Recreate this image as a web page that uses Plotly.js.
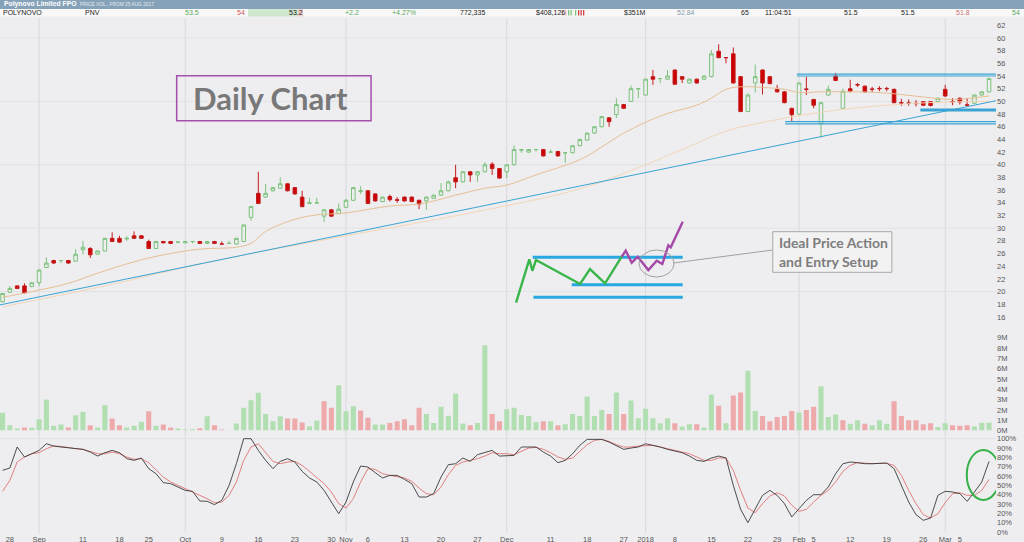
<!DOCTYPE html>
<html><head><meta charset="utf-8">
<script src="https://cdn.plot.ly/plotly-3.0.1.min.js"></script>
<style>html,body{margin:0;padding:0;background:#eeeef1;}#chart{width:1024px;height:542px;}</style>
</head><body><div id="chart"></div>
<script>
// ---------- DATA ----------
const firstDay = '2017-08-25', lastDay = '2018-03-09';
const closedDays = ['2017-09-22','2017-12-25','2017-12-26','2018-01-01','2018-01-26'];

const open = [18.4,19.9,20.9,20.9,20.8,21.4,23.8,24.9,24.9,24.9,
24.8,26.6,26.8,25.9,26.4,28.4,28.4,28.3,28.8,28.8,
27.9,26.8,27.9,27.9,27.8,27.7,27.9,27.9,27.6,27.9,
27.5,27.6,27.5,27.9,31.7,35.5,34.9,35.9,36.3,37.0,
36.4,34.9,33.9,34.0,31.9,32.9,32.3,33.3,34.4,35.8,
35.9,35.4,34.2,35.0,34.5,34.9,34.9,34.4,34.3,34.7,
35.2,35.9,37.96,37.3,38.9,38.4,38.9,40.1,39.4,38.9,
40.0,42.3,42.0,42.4,42.4,42.0,42.1,41.9,41.9,43.0,
43.9,45.0,46.0,47.4,47.9,49.5,50.0,52.0,51.0,53.9,
53.6,53.5,54.95,53.9,52.9,53.5,53.5,53.9,57.9,56.9,
57.5,53.9,48.4,52.9,54.95,53.9,51.9,51.5,48.9,48.0,
51.95,50.3,46.5,51.0,54.0,48.9,52.0,52.65,52.4,51.95,
52.05,52.05,51.9,49.8,49.75,49.7,49.95,49.95,49.95,51.9,
50.0,50.5,49.45,49.7,51.0,51.5];
const high = [19.8,20.9,21.0,21.3,21.5,23.5,25.4,25.0,24.9,25.0,
26.7,28.0,27.0,26.5,28.5,29.35,28.8,28.7,29.5,28.9,
28.2,28.0,28.0,28.0,27.9,28.0,27.9,28.0,28.0,28.0,
27.9,28.0,28.5,30.6,33.5,38.9,37.0,36.5,38.0,37.1,
36.5,35.9,34.8,34.8,33.0,33.0,33.9,34.6,36.5,36.6,
36.0,35.5,35.0,35.3,34.9,35.0,35.0,34.5,35.0,35.3,
37.1,37.5,40.0,39.0,39.0,39.0,40.4,40.4,39.5,40.1,
43.1,42.5,42.5,42.4,42.5,42.4,42.2,41.9,43.1,44.1,
45.1,46.1,47.7,47.5,50.5,49.6,52.5,52.0,53.6,54.95,
53.6,54.95,55.0,54.0,53.6,53.6,54.1,58.1,59.0,56.9,
58.5,54.0,51.3,55.8,55.0,54.0,52.6,51.6,49.0,53.0,
53.9,50.4,49.9,52.5,54.5,52.0,53.4,52.9,52.5,52.3,
52.4,52.3,52.0,50.4,50.3,50.2,50.0,50.0,50.6,52.6,
50.5,50.6,50.5,51.1,51.6,53.7];
const low = [18.3,19.8,20.4,19.7,20.7,20.9,23.7,24.4,24.5,24.4,
24.7,25.9,25.3,25.8,26.3,27.8,27.7,28.0,28.3,28.3,
26.7,26.7,27.6,27.5,27.7,27.6,27.6,27.5,27.5,27.5,
27.5,27.6,27.4,27.8,31.2,33.8,34.8,35.8,36.2,35.8,
35.3,33.3,33.9,33.9,31.0,31.8,32.2,33.2,34.3,35.4,
33.8,34.2,34.1,34.2,34.0,34.2,34.1,33.0,32.9,34.6,
35.1,35.8,36.3,37.2,37.3,37.3,38.8,38.4,37.8,37.9,
39.9,41.9,41.9,42.1,41.3,42.0,41.3,40.3,41.8,42.9,
43.8,44.9,45.9,46.0,47.4,48.8,49.9,50.5,50.9,52.6,
52.9,53.4,52.6,52.9,52.8,52.8,53.4,53.8,56.8,56.0,
52.8,48.3,48.3,51.4,51.1,52.7,51.4,49.7,46.8,47.9,
51.0,48.9,44.3,50.9,53.2,48.8,51.4,52.3,51.4,51.5,
51.6,51.6,49.7,49.3,49.3,49.2,49.3,49.2,49.9,50.7,
49.4,49.5,49.35,49.6,50.9,51.4];
const close = [19.7,20.5,20.5,19.8,21.4,23.4,24.5,24.5,24.9,24.5,
25.9,27.0,25.8,26.4,28.4,27.9,27.8,28.4,28.4,28.4,
26.8,27.9,27.7,27.6,27.8,27.9,27.9,27.6,27.9,27.6,
27.5,27.6,28.4,30.5,33.4,33.9,35.5,36.4,37.0,35.9,
35.4,33.4,34.0,34.0,32.9,31.9,33.0,34.4,36.4,35.9,
33.9,34.3,34.9,34.5,34.4,34.3,34.2,33.8,34.9,35.2,
35.9,37.3,37.3,38.9,38.4,38.9,40.0,39.4,37.9,40.0,
42.4,42.4,42.4,42.4,41.4,42.0,41.4,41.9,43.0,44.0,
45.0,46.0,47.6,46.8,49.5,48.9,52.0,52.0,53.5,53.5,
53.6,54.0,52.7,53.5,53.5,52.9,54.0,57.5,56.9,56.9,
52.9,48.4,51.0,53.9,52.9,52.8,51.5,49.8,47.9,52.9,
51.9,49.4,49.8,51.9,53.3,51.6,51.6,52.6,51.5,51.9,
52.0,52.0,49.8,49.75,49.7,49.65,49.4,49.35,50.5,50.85,
49.95,49.9,49.4,51.0,51.5,53.6];
// volume, millions of shares
const volume = [1.72,0.52,0.19,0.29,0.26,1.10,3.01,0.45,0.58,0.29,
1.49,1.81,0.52,0.29,2.46,1.17,0.52,0.29,0.45,0.84,
1.88,0.45,0.58,0.29,0.19,0.10,0.13,0.23,1.39,0.52,
0.10,0.03,0.68,2.20,2.94,3.66,1.59,0.91,1.39,1.17,
1.17,0.78,0.42,0.97,2.85,2.20,4.40,1.88,2.36,1.94,
1.23,0.58,0.58,0.74,0.91,1.10,0.52,2.20,1.59,0.74,
2.30,1.42,3.59,0.68,0.52,0.74,8.28,1.59,0.91,2.07,
2.2,1.5,1.4,0.8,0.9,0.9,0.5,0.6,1.6,1.4,
3.3,1.4,2.0,1.6,3.7,1.6,2.9,1.2,2.1,1.2,
0.7,1.2,0.7,0.4,0.6,0.6,0.3,3.5,2.4,0.7,
3.4,3.7,5.8,1.9,1.4,0.9,1.3,1.4,1.9,1.75,
2.0,2.3,4.3,1.3,1.55,1.0,0.65,1.0,0.65,0.5,
1.0,0.65,2.85,1.4,1.0,1.0,0.6,0.7,0.35,0.7,
0.5,0.45,0.5,0.4,0.75,0.75];
// stochastic oscillator %K and %D
const stochK = [66.1,68.6,91.1,80.4,83.9,87.5,94.6,92.1,91.1,90.0,
89.3,88.6,85.7,81.4,85.0,87.5,85.0,78.6,76.8,79.3,
67.9,62.5,52.9,51.8,48.2,44.6,43.6,33.2,32.9,29.3,
33.9,50.0,73.2,100,100,87.5,76.8,67.9,75.7,78.6,
75.0,65.0,57.9,53.6,44.6,32.1,19.6,32.1,53.6,70.7,
69.6,63.6,57.9,60.7,60.7,56.4,51.8,37.5,37.5,41.1,
58.9,72.1,73.2,79.3,75.7,82.9,85.0,87.5,81.4,82.1,
82.1,91.1,91.1,91.1,85.7,81.4,74.3,76.8,83.9,92.9,
99.3,99.3,99.3,96.4,92.1,88.6,90.0,91.1,94.6,92.9,
91.1,88.6,86.4,85.0,81.4,76.8,75.7,79.3,81.4,79.3,
50.0,24.3,10.0,25.0,39.3,44.6,39.3,30.4,16.1,25.0,
33.9,40.0,40.0,48.2,62.5,73.2,75.0,74.3,73.2,73.2,
73.2,73.9,67.9,50.0,32.1,18.6,12.5,15.0,39.3,43.6,
42.9,41.1,32.9,42.9,53.6,75.7];
const stochD = [43.6,55.4,75.0,80.4,83.9,85.0,89.3,92.1,91.8,90.4,
89.3,88.6,86.4,83.9,83.9,85.7,83.9,80.4,77.9,78.6,
74.3,67.1,58.9,53.6,50.0,46.4,43.6,39.3,35.7,31.4,
32.1,39.3,53.6,76.8,91.1,94.6,85.7,75.7,73.2,75.0,
75.7,71.4,65.0,58.9,51.8,42.9,30.4,25.7,35.7,53.6,
67.9,67.1,62.5,60.7,58.9,57.9,54.3,47.1,41.1,40.0,
48.2,61.4,71.4,75.0,76.8,78.6,81.4,85.0,83.9,83.9,
82.9,86.4,90.0,90.7,88.6,85.0,80.4,77.9,79.3,86.4,
93.6,98.2,99.3,97.1,93.6,91.1,91.1,92.1,92.9,92.9,
91.1,89.3,87.5,86.4,83.9,80.4,76.8,76.8,79.3,79.3,
66.1,44.6,25.7,20.7,30.4,38.6,42.1,38.6,28.6,22.1,
24.3,32.1,39.3,44.6,53.6,65.0,71.4,74.3,73.6,73.2,
73.6,73.6,71.4,60.7,44.6,30.4,18.6,15.0,19.6,31.4,
41.1,42.1,39.3,39.3,44.6,56.4];
// moving averages (trading-day number, price)
const maFastDay = [0,4,9,13,18,22,27,32,34,36,40,43,47,53,57,62,66,69,73,79,82,85,88,91,95,97,99,101,104,107,109,112,117,121,126,130,135];
const maFastVal = [19.1,20.0,21.3,22.9,24.7,25.8,26.7,27.0,27.6,29.5,31.4,32.1,32.4,33.5,33.8,35.2,36.3,36.8,38.4,40.8,42.8,45.0,46.7,48.1,49.4,50.5,51.9,52.3,52.2,51.9,51.4,51.5,51.5,51.3,50.7,50.3,50.85];
const maSlowDay = [0,14,28,46,64,79,88,94,99,105,114,125,135];
const maSlowVal = [17.6,20.9,24.6,28.6,32.4,36.2,40.0,42.9,45.3,46.9,48.6,49.7,50.0];
// drawn trend line (trading-day number, price)
const trendDay = [-0.35, 135.95];
const trendVal = [17.9, 50.1];
// drawn consolidation range lines
const rangeTopVal = [54.3, 54.0], rangeTopFrom = 108.7;
const rangeLowVal = [46.8, 46.45], rangeLowFrom = 107.1;
const entryVal = 48.65, entryFrom = 125.6;
// "ideal price action" sketch (trading-day number, price)
const sketchLevels = [25.41, 21.09, 19.10];
const sketchLevelFrom = [72.55, 77.89, 72.64];
const sketchLevelTo = 93.08;
const sketchGreenDay = [70.27,72.09,72.5,73.0,79.03,80.39,82.45,84.73];
const sketchGreenVal = [18.25,25.09,23.29,24.98,21.20,23.56,21.31,25.50];
const sketchPurpleDay = [84.73,85.28,86.10,86.92,88.37,89.52,90.29,91.11,91.44,93.08];
const sketchPurpleVal = [25.50,26.45,24.56,25.50,23.40,24.87,24.35,27.30,26.98,31.02];

// axis labels
const tickDates = ['2017-08-28','2017-09-01','2017-09-11','2017-09-18','2017-09-25','2017-10-02','2017-10-09','2017-10-16','2017-10-23','2017-10-30','2017-11-01','2017-11-06','2017-11-13','2017-11-20','2017-11-27','2017-12-01','2017-12-11','2017-12-18','2017-12-27','2018-01-02','2018-01-08','2018-01-15','2018-01-22','2018-01-29','2018-02-01','2018-02-05','2018-02-12','2018-02-19','2018-02-26','2018-03-01','2018-03-05'];
const tickLabels = ['28','Sep','11','18','25','Oct','9','16','23','30','Nov','6','13','20','27','Dec','11','18','27','2018','8','15','22','29','Feb','5','12','19','26','Mar','5'];
const monthStarts = ['2017-09-01','2017-10-02','2017-11-01','2017-12-01','2018-01-02','2018-02-01','2018-03-01'];
const priceTicks = [16,18,20,22,24,26,28,30,32,34,36,38,40,42,44,46,48,50,52,54,56,58,60,62];
const volTicks = [0,1,2,3,4,5,6,7,8,9];
const volTickText = ['0M','1M','2M','3M','4M','5M','6M','7M','8M','9M'];
const stochTicks = [0,10,20,30,40,50,60,70,80,90,100];
const stochTickText = ['0%','10%','20%','30%','40%','50%','60%','70%','80%','90%','100%'];

// quote header
const headerTitle = 'Polynovo Limited FPO';
const headerSub = 'PRICE VOL., FROM 25 AUG 2017';
const headerValues = ['POLYNOVO','PNV','53.5','54','53.2','+2.2','+4.27%','772,335','$408,126','$351M','52.84','65','11:04:51','51.5','51.5','51.8','54'];

// ---------- BUILD ----------
function tradingDays(a,b,skip){
  const out=[]; const d=new Date(a+'T00:00:00Z'); const end=new Date(b+'T00:00:00Z');
  while(d<=end){ const wd=d.getUTCDay(); const s=d.toISOString().slice(0,10);
    if(wd!==0&&wd!==6&&!skip.includes(s)) out.push(s); d.setUTCDate(d.getUTCDate()+1);}
  return out;
}
const dates = tradingDays(firstDay,lastDay,closedDays);
const dayNo = dates.map((d,i)=>i);
const volColors = close.map((c,i)=> (i===0 || c>=close[i-1]) ? '#b2dfb2' : '#eeaaaa');

const W=1024,H=542,mL=0,mR=28,mT=18,mB=9;
const plotW=W-mL-mR, plotH=H-mT-mB;
const fy = Y => (H-mB-Y)/plotH;
const fx = X => (X-mL)/plotW;
const xEnd = 135.95;

const traces = [
  {type:'scatter',mode:'lines',x:maSlowDay,y:maSlowVal,line:{color:'#f3d6b8',width:1,shape:'spline'},xaxis:'x',yaxis:'y',hoverinfo:'skip'},
  {type:'scatter',mode:'lines',x:maFastDay,y:maFastVal,line:{color:'#e6bf93',width:1,shape:'spline'},xaxis:'x',yaxis:'y',hoverinfo:'skip'},
  {type:'scatter',mode:'lines',x:trendDay,y:trendVal,line:{color:'#3aa3d3',width:1},xaxis:'x',yaxis:'y',hoverinfo:'skip'},
  {type:'candlestick',x:dayNo,open:open,high:high,low:low,close:close,xaxis:'x',yaxis:'y',
   increasing:{line:{color:'#7cc27c',width:1},fillcolor:'#eeeef1'},
   decreasing:{line:{color:'#c41c1c',width:1},fillcolor:'#cc0000'},
   whiskerwidth:0,hoverinfo:'skip'},
  {type:'bar',x:dayNo,y:volume,marker:{color:volColors,line:{width:0}},width:0.7,xaxis:'x',yaxis:'y2',hoverinfo:'skip'},
  {type:'scatter',mode:'lines',x:dayNo,y:stochD,line:{color:'#e07272',width:0.9},xaxis:'x',yaxis:'y3',hoverinfo:'skip'},
  {type:'scatter',mode:'lines',x:dayNo,y:stochK,line:{color:'#3a3a3a',width:0.9},xaxis:'x',yaxis:'y3',hoverinfo:'skip'}
];
rangeTopVal.forEach(v=>traces.push({type:'scatter',mode:'lines',x:[rangeTopFrom,xEnd],y:[v,v],line:{color:'#3aa3d3',width:1.1},xaxis:'x',yaxis:'y',hoverinfo:'skip'}));
rangeLowVal.forEach(v=>traces.push({type:'scatter',mode:'lines',x:[rangeLowFrom,xEnd],y:[v,v],line:{color:'#3aa3d3',width:1.1},xaxis:'x',yaxis:'y',hoverinfo:'skip'}));
traces.push({type:'scatter',mode:'lines',x:[entryFrom,xEnd],y:[entryVal,entryVal],line:{color:'#3aa3d3',width:3},xaxis:'x',yaxis:'y',hoverinfo:'skip'});
sketchLevels.forEach((v,k)=>traces.push({type:'scatter',mode:'lines',x:[sketchLevelFrom[k],sketchLevelTo],y:[v,v],line:{color:'#27a8e0',width:3},xaxis:'x',yaxis:'y',hoverinfo:'skip'}));
traces.push({type:'scatter',mode:'lines',x:sketchGreenDay,y:sketchGreenVal,line:{color:'#3ab54a',width:2.4},xaxis:'x',yaxis:'y',hoverinfo:'skip'});
traces.push({type:'scatter',mode:'lines',x:sketchPurpleDay,y:sketchPurpleVal,line:{color:'#a548a8',width:2.4},xaxis:'x',yaxis:'y',hoverinfo:'skip'});

const tickFont = {family:'Liberation Sans, Arial, sans-serif',size:7.5,color:'#555'};
const shapes = [];
shapes.push({type:'rect',xref:'paper',yref:'paper',x0:fx(0),x1:fx(W),y0:fy(9),y1:fy(0),fillcolor:'#86a2b9',line:{width:0},layer:'above'});
shapes.push({type:'rect',xref:'paper',yref:'paper',x0:fx(0),x1:fx(W),y0:fy(16.5),y1:fy(9),fillcolor:'#f8f8f8',line:{width:0},layer:'above'});
shapes.push({type:'rect',xref:'paper',yref:'paper',x0:fx(248),x1:fx(298),y0:fy(16.5),y1:fy(9),fillcolor:'#cfe8cf',line:{width:0},layer:'above'});
shapes.push({type:'rect',xref:'paper',yref:'paper',x0:fx(298),x1:fx(303),y0:fy(16.5),y1:fy(9),fillcolor:'#f3cccc',line:{width:0},layer:'above'});
[[562,'#f0b0b0'],[565,'#f0b0b0'],[568,'#7cc27c'],[570.5,'#7cc27c'],[575,'#7cc27c'],[578,'#d04040'],[580.5,'#d04040'],[583,'#d04040']].forEach(b=>{
  shapes.push({type:'rect',xref:'paper',yref:'paper',x0:fx(b[0]),x1:fx(b[0]+1.3),y0:fy(15.5),y1:fy(10),fillcolor:b[1],line:{width:0},layer:'above'});
});
monthStarts.forEach(d=>{const i=dates.indexOf(d);
  shapes.push({type:'line',xref:'x',yref:'paper',x0:i,x1:i,y0:0,y1:1,line:{color:'#d8d8dd',width:1},layer:'below'});});
[20,30,40,50,60].forEach(v=>shapes.push({type:'line',xref:'paper',yref:'y',x0:0,x1:1,y0:v,y1:v,line:{color:'#e2e2e6',width:1},layer:'below'}));
shapes.push({type:'line',xref:'paper',yref:'y3',x0:0,x1:1,y0:100,y1:100,line:{color:'#e2e2e6',width:1},layer:'below'});
shapes.push({type:'rect',xref:'x',yref:'y',x0:23.83,x1:50.43,y0:46.95,y1:54.05,line:{color:'#a54fac',width:1.5}});
shapes.push({type:'circle',xref:'x',yref:'y',x0:87.1,x1:91.9,y0:22.3,y1:26.56,line:{color:'#a0a0a0',width:1}});
shapes.push({type:'line',xref:'x',yref:'y',x0:91.75,y0:24.5,x1:105.4,y1:26.56,line:{color:'#a0a0a0',width:1}});
shapes.push({type:'rect',xref:'x',yref:'y',x0:105.4,x1:121.7,y0:23.04,y1:29.45,line:{color:'#a8a8a8',width:1},fillcolor:'#f2f2f3'});
shapes.push({type:'circle',xref:'x',yref:'y3',x0:131.95,x1:136.5,y0:34.3,y1:87.9,line:{color:'#37b24a',width:2}});

const headerX = [1,83,183,235,287,343,390,458,534,622,675,739,763,842,899,954,1010];
const headerColors = ['#222','#222','#5aaa5a','#cc5a5a','#222','#5aaa5a','#5aaa5a','#222','#222','#222','#8a9aaa','#222','#222','#222','#222','#d07070','#5aaa5a'];
const annotations = headerValues.map((t,k)=>({xref:'paper',yref:'paper',x:fx(headerX[k]),y:fy(12.8),xanchor:'left',yanchor:'middle',text:t,showarrow:false,
  font:{family:'Liberation Sans, Arial, sans-serif',size:7,color:headerColors[k]}}));
annotations.push({xref:'paper',yref:'paper',x:fx(2),y:fy(4.3),xanchor:'left',yanchor:'middle',text:'<b>'+headerTitle+'</b>',showarrow:false,font:{family:'Liberation Sans, Arial, sans-serif',size:6.8,color:'#ffffff'}});
annotations.push({xref:'paper',yref:'paper',x:fx(78),y:fy(4.5),xanchor:'left',yanchor:'middle',text:headerSub,showarrow:false,font:{family:'Liberation Sans, Arial, sans-serif',size:4.8,color:'#e4ebf2'}});
annotations.push({xref:'x',yref:'y',x:36.65,y:50.6,xanchor:'center',yanchor:'middle',text:'Daily Chart',showarrow:false,font:{family:'Lato, sans-serif',size:31,color:'#787878',weight:700}});
annotations.push({xref:'x',yref:'y',x:105.95,y:27.75,xanchor:'left',yanchor:'middle',text:'Ideal Price Action',showarrow:false,font:{family:'Lato, sans-serif',size:14,color:'#7d7d7d',weight:700}});
annotations.push({xref:'x',yref:'y',x:105.95,y:24.8,xanchor:'left',yanchor:'middle',text:'and Entry Setup',showarrow:false,font:{family:'Lato, sans-serif',size:14,color:'#7d7d7d',weight:700}});

const layout = {
  width:W,height:H,margin:{l:mL,r:mR,t:mT,b:mB},
  paper_bgcolor:'#eeeef1',plot_bgcolor:'#eeeef1',showlegend:false,
  xaxis:{range:[-0.35,xEnd],anchor:'y3',tickmode:'array',tickvals:tickDates.map(d=>dates.indexOf(d)),ticktext:tickLabels,
    tickangle:0,showgrid:false,zeroline:false,showline:false,ticks:'',tickfont:tickFont,rangeslider:{visible:false},fixedrange:true},
  yaxis:{domain:[fy(333),1],range:[13.47,63.15],side:'right',anchor:'x',tickmode:'array',tickvals:priceTicks,
    showgrid:false,zeroline:false,showline:false,ticks:'',tickfont:tickFont},
  yaxis2:{domain:[fy(430.5),fy(335)],range:[0,9.27],side:'right',anchor:'x',tickmode:'array',tickvals:volTicks,ticktext:volTickText,
    showgrid:false,zeroline:false,showline:false,ticks:'',tickfont:tickFont},
  yaxis3:{domain:[0,fy(435)],range:[-1.07,103.97],side:'right',anchor:'x',tickmode:'array',tickvals:stochTicks,ticktext:stochTickText,
    showgrid:false,zeroline:false,showline:false,ticks:'',tickfont:tickFont},
  shapes:shapes,annotations:annotations,boxgap:0.3
};
Plotly.newPlot('chart',traces,layout,{staticPlot:true,displayModeBar:false});
</script></body></html>
